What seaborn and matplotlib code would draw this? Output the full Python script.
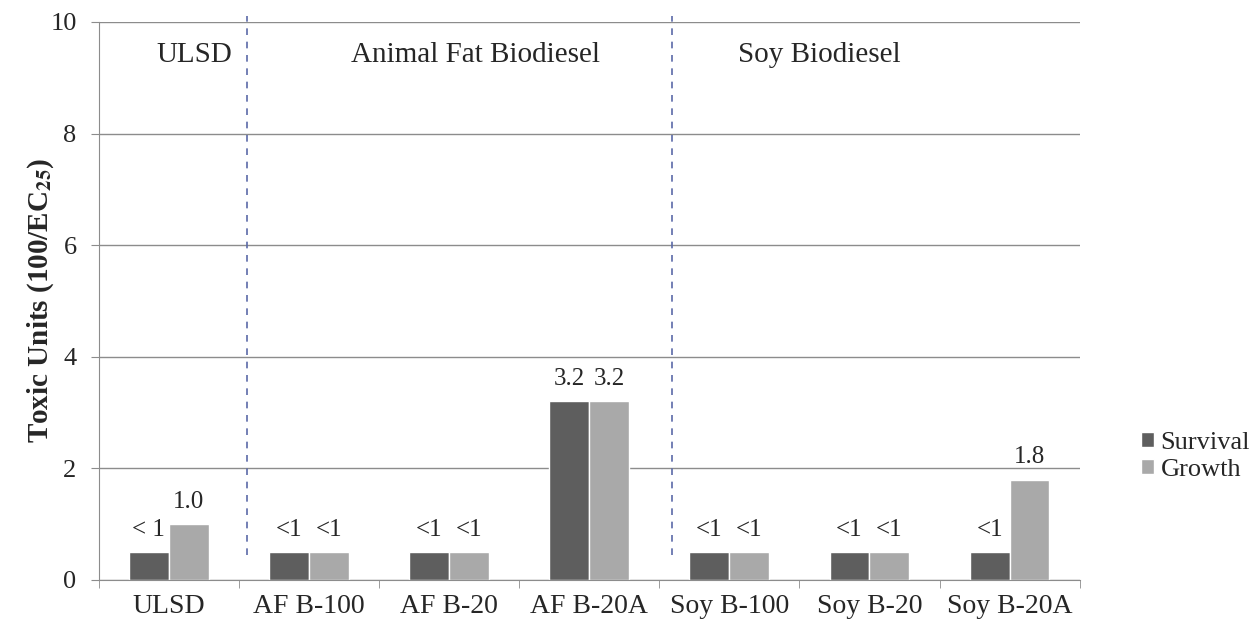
import numpy as np
import pandas as pd
import seaborn as sns
import matplotlib.pyplot as plt
from matplotlib.patches import Patch

fuels = ["ULSD", "AF B-100", "AF B-20", "AF B-20A", "Soy B-100", "Soy B-20", "Soy B-20A"]
survival = [0.5, 0.5, 0.5, 3.2, 0.5, 0.5, 0.5]
growth = [1.0, 0.5, 0.5, 3.2, 0.5, 0.5, 1.8]
survival_labels = ["< 1", "<1", "<1", "3.2", "<1", "<1", "<1"]
growth_labels = ["1.0", "<1", "<1", "3.2", "<1", "<1", "1.8"]
groups = ["ULSD", "Animal Fat Biodiesel", "Soy Biodiesel"]
group_x = [-0.09, 1.30, 4.06]
divider_x = [0.56, 3.59]

df = pd.DataFrame({
    "fuel": fuels * 2,
    "value": survival + growth,
    "endpoint": ["Survival"] * len(fuels) + ["Growth"] * len(fuels),
})

sns.set_style("white")
plt.rcParams["font.family"] = ["Liberation Serif", "DejaVu Serif"]
plt.rcParams["mathtext.fontset"] = "stix"

colors = {"Survival": "#5e5e5e", "Growth": "#a9a9a9"}

fig = plt.figure(figsize=(12.51, 6.27), dpi=100)
ax = fig.add_axes([0.079, 0.075, 0.784, 0.89])

sns.barplot(data=df, x="fuel", y="value", hue="endpoint", order=fuels,
            hue_order=["Survival", "Growth"], palette=colors, width=0.57,
            saturation=1, gap=0, legend=False, ax=ax)

ax.bar_label(ax.containers[0], labels=survival_labels, padding=8, fontsize=18)
ax.bar_label(ax.containers[1], labels=growth_labels, padding=8, fontsize=18)

ax.set_ylim(0, 10)
ax.set_xlim(-0.5, 6.5)
ax.set_yticks([0, 2, 4, 6, 8, 10])
ax.yaxis.grid(True, color="#8c8c8c", linewidth=1)
ax.set_axisbelow(True)
ax.set_xlabel("")
ax.set_ylabel("Toxic Units (100/EC$_{\\mathbf{25}}$)", fontsize=21, fontweight="bold", labelpad=-4)

for s in ["top", "right"]:
    ax.spines[s].set_visible(False)
for s in ["left", "bottom"]:
    ax.spines[s].set_color("#8c8c8c")

ax.tick_params(axis="y", length=6, color="#8c8c8c", labelsize=19, direction="out", left=True, pad=10)
ax.tick_params(axis="x", which="major", length=0, labelsize=20, pad=10)
ax.set_xticks(np.arange(-0.5, 7, 1), minor=True)
ax.tick_params(axis="x", which="minor", length=6, color="#8c8c8c", direction="out", bottom=True)

for xd in divider_x:
    ax.plot([xd, xd], [0.45, 10.1], color="#5b6aa8", linestyle=(0, (4, 4)),
            linewidth=1.2, clip_on=False)

for g, gx in zip(groups, group_x):
    ax.text(gx, 9.4, g, fontsize=21, ha="left", va="center")

handles = [Patch(facecolor=colors[k], label=k) for k in ["Survival", "Growth"]]
fig.legend(handles=handles, loc="center left", bbox_to_anchor=(0.893, 0.272),
           frameon=False, fontsize=19, handlelength=0.5, handleheight=0.5,
           handletextpad=0.25, labelspacing=0.2)

fig.savefig("out.png", dpi=100)
